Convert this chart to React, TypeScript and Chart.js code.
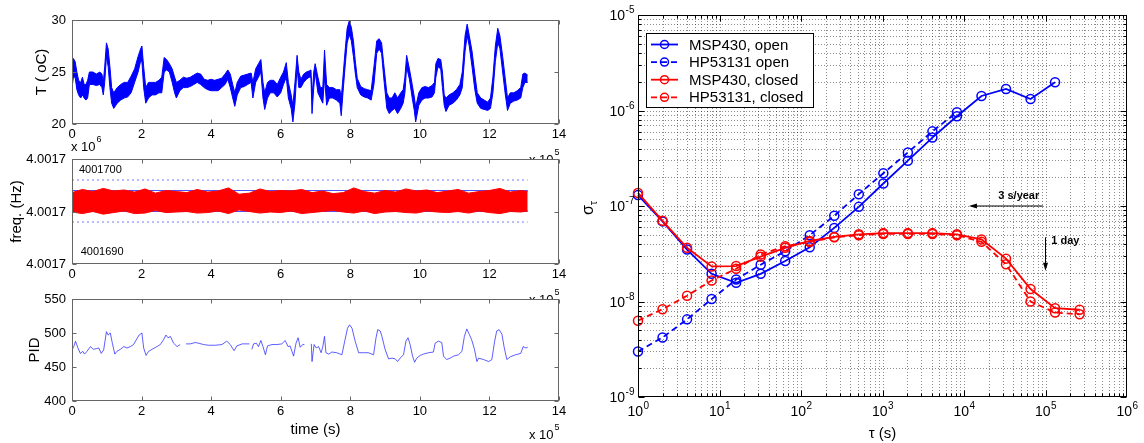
import React, { useEffect, useRef } from "react";
import { Chart, registerables } from "chart.js";
Chart.register(...registerables);

const W = 1144;
const H = 443;
const FONT = '"Liberation Sans", Arial, Helvetica, sans-serif';
const YW = 40;
const XH = 20;
const BLUE = "#0000ff";
const RED = "#ff0000";

// ---------------- data: time series (time in units of 1e5 s) ----------------
const timeTicks = [0, 2, 4, 6, 8, 10, 12, 14];

const tempTime = [0.0, 0.04, 0.09, 0.14, 0.19, 0.25, 0.3, 0.35, 0.4, 0.45, 0.5, 0.6, 0.7, 0.8, 0.86, 0.9, 0.94, 0.99, 1.04, 1.09, 1.14, 1.2, 1.3, 1.4, 1.5, 1.6, 1.7, 1.8, 1.9, 1.97, 2.01, 2.06, 2.12, 2.2, 2.3, 2.4, 2.5, 2.58, 2.65, 2.72, 2.8, 2.88, 2.95, 3.0, 3.1, 3.2, 3.3, 3.4, 3.5, 3.6, 3.7, 3.8, 3.9, 4.0, 4.1, 4.2, 4.3, 4.4, 4.48, 4.55, 4.62, 4.68, 4.75, 4.85, 4.95, 5.05, 5.15, 5.2, 5.28, 5.36, 5.43, 5.49, 5.54, 5.62, 5.7, 5.8, 5.9, 6.0, 6.08, 6.16, 6.22, 6.3, 6.35, 6.41, 6.47, 6.52, 6.58, 6.66, 6.74, 6.82, 6.87, 6.9, 6.95, 6.99, 7.07, 7.14, 7.21, 7.26, 7.32, 7.4, 7.5, 7.6, 7.7, 7.74, 7.79, 7.85, 7.91, 7.97, 8.03, 8.09, 8.14, 8.2, 8.3, 8.4, 8.5, 8.6, 8.68, 8.76, 8.83, 8.9, 8.96, 9.05, 9.12, 9.2, 9.28, 9.36, 9.45, 9.52, 9.57, 9.62, 9.7, 9.78, 9.84, 9.88, 9.97, 10.06, 10.15, 10.25, 10.35, 10.42, 10.46, 10.52, 10.6, 10.65, 10.7, 10.75, 10.84, 10.95, 11.05, 11.15, 11.22, 11.3, 11.36, 11.42, 11.5, 11.58, 11.65, 11.75, 11.85, 11.95, 12.03, 12.1, 12.17, 12.24, 12.3, 12.38, 12.45, 12.52, 12.6, 12.7, 12.8, 12.9, 12.96, 13.02, 13.1];
const tempLow = [23.5, 24.5, 24.5, 23.3, 22.8, 22.5, 22.8, 22.5, 22.3, 22.5, 23.8, 23.8, 23.7, 23.8, 23.5, 22.8, 24.0, 26.5, 25.5, 23.5, 22.0, 21.5, 22.0, 22.3, 22.5, 22.6, 23.0, 24.0, 25.0, 26.0, 26.0, 23.5, 22.0, 22.5, 22.8, 22.8, 23.0, 23.0, 25.0, 25.2, 25.0, 24.0, 23.0, 22.5, 23.2, 23.5, 23.5, 23.6, 23.8, 24.0, 23.8, 23.5, 23.3, 23.2, 23.2, 23.2, 23.5, 23.8, 24.3, 23.5, 22.5, 21.7, 22.8, 23.5, 23.6, 23.8, 24.0, 22.5, 24.0, 24.5, 25.0, 22.5, 21.4, 22.5, 23.0, 23.0, 22.6, 23.0, 23.8, 24.5, 22.5, 21.5, 20.2, 22.0, 25.5, 23.5, 23.5, 24.0, 24.3, 24.5, 24.5, 21.0, 23.5, 25.0, 23.0, 22.5, 22.0, 24.5, 21.8, 22.5, 22.5, 22.3, 22.0, 20.8, 23.0, 25.5, 27.8, 28.6, 28.0, 26.5, 25.0, 23.5, 22.8, 22.6, 22.5, 22.3, 23.8, 26.8, 27.2, 26.8, 24.5, 21.5, 21.0, 21.3, 21.5, 21.0, 21.5, 22.0, 23.0, 25.5, 24.3, 22.5, 21.3, 20.2, 21.8, 22.3, 22.5, 22.5, 22.6, 23.0, 24.5, 25.5, 25.3, 23.5, 21.8, 21.2, 21.8, 22.0, 22.3, 22.8, 23.5, 27.0, 28.5, 27.5, 25.5, 23.3, 22.0, 21.5, 21.4, 21.3, 21.5, 23.0, 26.0, 27.8, 27.3, 25.0, 23.0, 21.3, 22.0, 22.2, 22.3, 22.5, 23.5, 24.0, 24.0];
const tempHigh = [25.0, 26.3, 26.0, 25.0, 24.2, 24.0, 24.5, 23.8, 23.8, 24.2, 25.0, 25.0, 24.8, 25.0, 24.8, 24.0, 25.5, 27.8, 27.2, 25.5, 23.5, 23.0, 23.5, 23.8, 24.0, 24.0, 24.6, 25.3, 26.5, 27.2, 27.5, 25.5, 23.5, 24.0, 24.0, 24.0, 24.2, 24.5, 26.4, 26.2, 25.8, 25.3, 24.5, 24.0, 24.2, 24.5, 24.4, 24.5, 24.7, 24.9, 24.8, 24.3, 24.2, 24.3, 24.2, 24.3, 24.4, 24.8, 25.2, 24.8, 23.8, 23.0, 24.0, 24.6, 24.7, 24.8, 24.9, 24.0, 25.3, 25.8, 26.2, 24.0, 23.0, 24.0, 24.2, 24.2, 23.8, 24.5, 25.0, 25.9, 24.0, 22.8, 21.8, 24.0, 26.6, 25.0, 24.3, 24.8, 25.0, 25.1, 25.2, 22.5, 25.0, 25.8, 24.5, 23.5, 23.5, 27.1, 23.8, 23.5, 23.5, 23.3, 23.3, 22.5, 24.5, 27.0, 29.2, 29.9, 29.3, 28.0, 26.2, 24.4, 23.6, 23.4, 23.3, 23.2, 25.5, 28.0, 28.2, 27.8, 25.8, 23.0, 22.5, 22.5, 23.0, 22.5, 23.0, 23.3, 24.5, 26.6, 25.3, 23.8, 22.6, 21.6, 23.0, 23.5, 23.6, 23.5, 23.7, 24.0, 25.8, 26.3, 26.2, 25.0, 22.8, 22.5, 22.8, 23.0, 23.3, 23.8, 25.0, 28.5, 29.6, 28.5, 27.0, 24.8, 23.0, 22.5, 22.3, 22.1, 22.5, 24.5, 27.5, 29.2, 28.5, 26.5, 24.5, 22.5, 23.0, 23.0, 23.2, 23.5, 24.8, 24.9, 24.7];

const freqTime = [0.0, 0.3, 0.6, 0.9, 1.2, 1.5, 1.8, 2.1, 2.4, 2.7, 3.0, 3.3, 3.6, 3.9, 4.2, 4.5, 4.8, 5.1, 5.4, 5.7, 6.0, 6.3, 6.6, 6.9, 7.2, 7.5, 7.8, 8.1, 8.4, 8.7, 9.0, 9.3, 9.6, 9.9, 10.2, 10.5, 10.8, 11.1, 11.4, 11.7, 12.0, 12.3, 12.6, 12.9, 13.1];
const freqHigh = [4001703.6, 4001704.2, 4001703.8, 4001704.4, 4001703.9, 4001704.1, 4001703.7, 4001704.3, 4001703.5, 4001704.0, 4001703.8, 4001703.6, 4001704.2, 4001703.7, 4001703.9, 4001704.5, 4001703.3, 4001703.5, 4001704.3, 4001703.8, 4001704.0, 4001703.9, 4001704.2, 4001703.6, 4001703.9, 4001703.4, 4001703.6, 4001704.5, 4001703.8, 4001703.5, 4001704.0, 4001703.7, 4001704.3, 4001703.9, 4001704.1, 4001703.6, 4001703.9, 4001704.2, 4001703.5, 4001703.8, 4001704.0, 4001704.4, 4001703.7, 4001704.0, 4001703.8];
const freqLow = [4001699.9, 4001699.6, 4001700.0, 4001699.5, 4001699.8, 4001700.1, 4001699.6, 4001699.7, 4001700.2, 4001699.8, 4001699.9, 4001700.0, 4001699.7, 4001699.8, 4001700.1, 4001699.6, 4001700.3, 4001700.0, 4001699.7, 4001699.9, 4001699.8, 4001700.1, 4001699.6, 4001699.8, 4001700.0, 4001700.2, 4001699.9, 4001699.7, 4001700.1, 4001699.6, 4001699.9, 4001700.0, 4001699.8, 4001699.7, 4001700.1, 4001699.9, 4001699.8, 4001700.0, 4001699.7, 4001700.1, 4001699.8, 4001699.6, 4001700.0, 4001699.9, 4001700.1];
const freqSolidLevels = [4001700, 4001704];
const freqDotLevels = [4001698, 4001706];
const freqEnd = 13.1;
const freqNotes = [
  { text: "4001700", t: 0.2, v: 4001708.0 },
  { text: "4001690", t: 0.25, v: 4001692.2 },
];

const pidTime = [0.0, 0.05, 0.1, 0.17, 0.24, 0.31, 0.36, 0.43, 0.53, 0.62, 0.7, 0.77, 0.84, 0.91, 0.99, 1.04, 1.1, 1.16, 1.23, 1.29, 1.39, 1.49, 1.58, 1.68, 1.77, 1.87, 1.93, 2.01, 2.06, 2.13, 2.2, 2.3, 2.44, 2.54, 2.63, 2.7, 2.76, 2.83, 2.92, 3.02, 3.11, 3.18, 3.28, 3.4, 3.54, 3.64, 3.78, 3.93, 4.12, 4.31, 4.45, 4.55, 4.66, 4.74, 4.89, 5.03, 5.1, 5.14, 5.17, 5.22, 5.3, 5.36, 5.43, 5.49, 5.56, 5.62, 5.75, 5.89, 6.03, 6.13, 6.21, 6.27, 6.37, 6.44, 6.5, 6.56, 6.63, 6.68, 6.78, 6.88, 6.9, 6.96, 7.02, 7.09, 7.16, 7.21, 7.26, 7.3, 7.38, 7.47, 7.61, 7.76, 7.84, 7.92, 7.98, 8.05, 8.14, 8.24, 8.38, 8.52, 8.67, 8.74, 8.79, 8.86, 8.91, 9.0, 9.1, 9.2, 9.29, 9.36, 9.43, 9.53, 9.6, 9.66, 9.72, 9.79, 9.85, 9.91, 10.01, 10.1, 10.25, 10.39, 10.44, 10.53, 10.63, 10.68, 10.77, 10.87, 10.97, 11.11, 11.21, 11.28, 11.35, 11.42, 11.49, 11.57, 11.64, 11.69, 11.83, 11.98, 12.07, 12.15, 12.21, 12.28, 12.36, 12.42, 12.5, 12.6, 12.75, 12.9, 12.97, 13.05, 13.1];
const pidValue = [475, 480, 488, 478, 470, 473, 469, 473, 480, 476, 477, 478, 470, 475, 502, 497, 500, 485, 469, 473, 476, 480, 478, 480, 483, 492, 497, 500, 478, 467, 473, 476, 480, 483, 490, 497, 493, 495, 485, 480, 483, null, 484, 484, 486, 485, 483, 482, 482, 483, 488, 483, 474, 481, 484, 484, 484, null, 476, 484, 485, 480, 489, 480, 468, 481, 483, 483, 484, 489, 480, 481, 466, 485, 493, 479, 483, 483, null, 484, 458, 483, 478, 480, 471, 480, 495, 471, 469, 472, 471, 468, 488, 507, 512, 507, 488, 471, 471, 471, 468, 493, 505, 503, 495, 476, 462, 463, 462, 458, 463, 468, 488, 493, 483, 466, 457, 463, 467, 469, 471, 472, 485, 488, 486, 466, 461, 463, 466, 468, 473, 495, 506, 498, 490, 476, 458, 463, 461, 458, 461, 488, 503, 505, 498, 480, 461, 465, 468, 470, 480, 478, 479];

// ---------------- data: Allan deviation ----------------
const tau = [1, 2, 4, 8, 16, 32, 64, 128, 256, 512, 1024, 2048, 4096, 8192, 16384, 32768, 65536, 131072, 262144];
const mspOpen = [1.3e-7, 6.9e-8, 3.5e-8, 1.95e-8, 1.57e-8, 1.95e-8, 2.65e-8, 3.7e-8, 5.9e-8, 9.8e-8, 1.72e-7, 2.98e-7, 5.2e-7, 8.7e-7, 1.42e-6, 1.68e-6, 1.32e-6, 1.98e-6, null];
const hpOpen = [3.0e-9, 4.2e-9, 6.5e-9, 1.06e-8, 1.7e-8, 2.43e-8, 3.36e-8, 4.95e-8, 7.9e-8, 1.33e-7, 2.2e-7, 3.64e-7, 6.05e-7, 9.6e-7, null, null, null, null, null];
const mspClosed = [1.37e-7, 7.0e-8, 3.65e-8, 2.33e-8, 2.35e-8, 2.95e-8, 3.65e-8, 4.3e-8, 4.75e-8, 5.05e-8, 5.2e-8, 5.2e-8, 5.2e-8, 5.05e-8, 4.47e-8, 2.81e-8, 1.35e-8, 8.5e-9, 8.2e-9];
const hpClosed = [6.3e-9, 8.3e-9, 1.15e-8, 1.66e-8, 2.2e-8, 3.1e-8, 3.8e-8, 4.2e-8, 4.7e-8, 4.95e-8, 5.1e-8, 5.1e-8, 5.1e-8, 4.95e-8, 4.22e-8, 2.45e-8, 1.0e-8, 7.65e-9, 7.35e-9];
const seriesNames = ["MSP430, open", "HP53131 open", "MSP430, closed", "HP53131, closed"];
const yearArrow = { label: "3 s/year", labelTau: 47000, labelSigma: 1.27e-7, fromTau: 93000, toTau: 11500, sigma: 1.0e-7 };
const dayArrow = { label: "1 day", labelTau: 118000, labelSigma: 4.3e-8, tau: 100000, fromSigma: 4.7e-8, toSigma: 2.1e-8 };

// ---------------- helpers ----------------
type Area = { l: number; t: number; r: number; b: number };
const A1: Area = { l: 72, t: 20, r: 559, b: 124 };
const A2: Area = { l: 72, t: 159, r: 559, b: 264 };
const A3: Area = { l: 72, t: 299, r: 559, b: 401 };
const A4: Area = { l: 638, t: 15, r: 1127, b: 397 };

const pad = (a: Area) => ({ left: a.l - YW, top: a.t, right: W - a.r, bottom: H - a.b - XH });
const pts = (xs: number[], ys: (number | null)[]) => xs.map((x, i) => ({ x, y: ys[i] }));

function text(ctx: any, s: string, x: number, y: number, size: number, align = "left", weight = "normal", base = "alphabetic") {
  ctx.save();
  ctx.font = `${weight} ${size}px ${FONT}`;
  ctx.fillStyle = "#000";
  ctx.textAlign = align;
  ctx.textBaseline = base;
  ctx.fillText(s, x, y);
  ctx.restore();
}

function vtext(ctx: any, s: string, x: number, y: number, size: number) {
  ctx.save();
  ctx.translate(x, y);
  ctx.rotate(-Math.PI / 2);
  ctx.font = `${size}px ${FONT}`;
  ctx.fillStyle = "#000";
  ctx.textAlign = "center";
  ctx.textBaseline = "middle";
  ctx.fillText(s, 0, 0);
  ctx.restore();
}

// "x 10^e" multiplier label, left-aligned at x, baseline y
function multiplier(ctx: any, exp: string, x: number, y: number) {
  ctx.save();
  ctx.fillStyle = "#000";
  ctx.font = `13px ${FONT}`;
  ctx.textBaseline = "alphabetic";
  ctx.textAlign = "left";
  const s = "x 10";
  ctx.fillText(s, x, y);
  const w = ctx.measureText(s).width;
  ctx.font = `9px ${FONT}`;
  ctx.fillText(exp, x + w + 1, y - 9);
  ctx.restore();
}

function pow10(ctx: any, exp: string, x: number, y: number, align: "center" | "right") {
  ctx.save();
  ctx.fillStyle = "#000";
  ctx.textBaseline = "alphabetic";
  ctx.textAlign = "left";
  ctx.font = `14px ${FONT}`;
  const w1 = ctx.measureText("10").width;
  ctx.font = `10px ${FONT}`;
  const w2 = ctx.measureText(exp).width;
  const start = align === "center" ? x - (w1 + w2) / 2 : x - w1 - w2;
  ctx.font = `14px ${FONT}`;
  ctx.fillText("10", start, y);
  ctx.font = `10px ${FONT}`;
  ctx.fillText(exp, start + w1 + 0.5, y - 7);
  ctx.restore();
}

function drawBox(chart: any, xt: number[], yt: number[], color: string) {
  const { ctx, chartArea: a, scales } = chart;
  ctx.save();
  ctx.strokeStyle = color;
  ctx.lineWidth = 1;
  const L = Math.round(a.left) + 0.5, R = Math.round(a.right) - 0.5;
  const T = Math.round(a.top) + 0.5, B = Math.round(a.bottom) - 0.5;
  ctx.strokeRect(L, T, R - L, B - T);
  ctx.beginPath();
  xt.forEach((v) => {
    const px = Math.round(scales.x.getPixelForValue(v)) + 0.5;
    ctx.moveTo(px, B); ctx.lineTo(px, B - 4);
    ctx.moveTo(px, T); ctx.lineTo(px, T + 4);
  });
  yt.forEach((v) => {
    const py = Math.round(scales.y.getPixelForValue(v)) + 0.5;
    ctx.moveTo(L, py); ctx.lineTo(L + 4, py);
    ctx.moveTo(R, py); ctx.lineTo(R - 4, py);
  });
  ctx.stroke();
  ctx.restore();
}

function leftChart(canvas: HTMLCanvasElement, area: Area, y: any, datasets: any[], yTicks: number[], extra: (c: any) => void) {
  return new Chart(canvas, {
    type: "line",
    data: { datasets },
    options: {
      animation: false,
      responsive: false,
      devicePixelRatio: 1,
      events: [],
      layout: { padding: pad(area) },
      plugins: { legend: { display: false }, tooltip: { enabled: false } },
      elements: { point: { radius: 0 }, line: { tension: 0 } },
      scales: {
        x: {
          type: "linear", min: 0, max: 14,
          ticks: { stepSize: 2, font: { family: FONT, size: 13 }, color: "#000", padding: 3, maxRotation: 0 },
          grid: { display: false, drawTicks: false },
          border: { display: false },
          afterFit: (s: any) => { s.height = XH; },
        },
        y: {
          type: "linear", min: y.min, max: y.max,
          ticks: { display: false, stepSize: y.step },
          grid: { display: false, drawTicks: false },
          border: { display: false },
          afterFit: (s: any) => { s.width = YW; },
        },
      },
    } as any,
    plugins: [
      {
        id: "bgfill",
        beforeDraw(c: any) {
          const { ctx, chartArea: a } = c;
          ctx.save();
          ctx.fillStyle = "#fff";
          ctx.fillRect(a.left, a.top, a.width, a.height);
          ctx.restore();
        },
      },
      {
        id: "boxtext",
        afterDraw(c: any) {
          drawBox(c, timeTicks, yTicks, "#666");
          yTicks.forEach((v) => {
            const lbl = y.cb ? y.cb(v) : String(v);
            text(c.ctx, lbl, c.chartArea.left - 6, c.scales.y.getPixelForValue(v) + 0.5, 13, "right", "normal", "middle");
          });
          extra(c);
        },
      },
    ],
  });
}

function lineDs(data: any[], color: string, extra: any = {}) {
  return { data, borderColor: color, backgroundColor: color, borderWidth: 1, pointRadius: 0, fill: false, spanGaps: false, ...extra };
}

export default function App() {
  const r1 = useRef<HTMLCanvasElement>(null);
  const r2 = useRef<HTMLCanvasElement>(null);
  const r3 = useRef<HTMLCanvasElement>(null);
  const r4 = useRef<HTMLCanvasElement>(null);

  useEffect(() => {
    const charts: Chart[] = [];

    // ---- panel 1: temperature ----
    charts.push(
      leftChart(
        r1.current!, A1, { min: 20, max: 30, step: 5 },
        [
          lineDs(pts(tempTime, tempLow), BLUE),
          lineDs(pts(tempTime, tempHigh), BLUE, { fill: "-1", backgroundColor: BLUE }),
        ],
        [20, 25, 30],
        (c) => {
          const ctx = c.ctx;
          vtext(ctx, "T ( oC)", 42, (A1.t + A1.b) / 2, 15);
          multiplier(ctx, "5", A1.r - 30, A2.t + 5);
        }
      )
    );

    // ---- panel 2: frequency ----
    const flat = (v: number) => [{ x: 0, y: v }, { x: freqEnd, y: v }];
    const fds: any[] = [
      lineDs(pts(freqTime, freqLow), RED),
      lineDs(pts(freqTime, freqHigh), RED, { fill: "-1", backgroundColor: RED }),
    ];
    freqSolidLevels.forEach((v) => fds.push(lineDs(flat(v), "rgba(60,60,255,0.9)")));
    freqDotLevels.forEach((v) => fds.push(lineDs(flat(v), "rgba(60,60,255,0.7)", { borderDash: [2, 3] })));
    charts.push(
      leftChart(
        r2.current!, A2, { min: 4001690, max: 4001710, step: 10, cb: () => "4.0017" },
        fds,
        [4001690, 4001700, 4001710],
        (c) => {
          const ctx = c.ctx;
          vtext(ctx, "freq. (Hz)", 17, (A2.t + A2.b) / 2, 15);
          multiplier(ctx, "6", A2.l - 1, A2.t - 8);
          multiplier(ctx, "5", A2.r - 30, A3.t + 5);
          freqNotes.forEach((n) => {
            text(ctx, n.text, c.scales.x.getPixelForValue(n.t), c.scales.y.getPixelForValue(n.v), 11, "left", "normal", "middle");
          });
        }
      )
    );

    // ---- panel 3: PID ----
    charts.push(
      leftChart(
        r3.current!, A3, { min: 400, max: 550, step: 50 },
        [lineDs(pts(pidTime, pidValue), "rgba(40,40,255,0.75)")],
        [400, 450, 500, 550],
        (c) => {
          const ctx = c.ctx;
          vtext(ctx, "PID", 35, (A3.t + A3.b) / 2, 15);
          text(ctx, "time (s)", (A3.l + A3.r) / 2, 434, 15, "center");
          multiplier(ctx, "5", A3.r - 30, 439);
        }
      )
    );

    // ---- panel 4: Allan deviation ----
    const ad = (vals: (number | null)[], color: string, dashed: boolean) => ({
      data: pts(tau, vals),
      borderColor: color,
      backgroundColor: "rgba(0,0,0,0)",
      borderWidth: 1.8,
      borderDash: dashed ? [6, 4] : [],
      pointRadius: 4.5,
      pointBorderWidth: 1.5,
      pointBorderColor: color,
      pointBackgroundColor: "rgba(0,0,0,0)",
      fill: false,
      clip: false,
      spanGaps: false,
    });
    const legendSpec = [
      { color: BLUE, dashed: false },
      { color: BLUE, dashed: true },
      { color: RED, dashed: false },
      { color: RED, dashed: true },
    ];
    charts.push(
      new Chart(r4.current!, {
        type: "line",
        data: {
          datasets: [
            ad(hpClosed, RED, true),
            ad(mspClosed, RED, false),
            ad(hpOpen, BLUE, true),
            ad(mspOpen, BLUE, false),
          ],
        },
        options: {
          animation: false,
          responsive: false,
          devicePixelRatio: 1,
          events: [],
          layout: { padding: pad(A4) },
          plugins: { legend: { display: false }, tooltip: { enabled: false } },
          elements: { line: { tension: 0 } },
          scales: {
            x: {
              type: "logarithmic", min: 1, max: 1e6,
              ticks: { display: false },
              grid: { display: false, drawTicks: false },
              border: { display: false },
              afterFit: (s: any) => { s.height = XH; },
            },
            y: {
              type: "logarithmic", min: 1e-9, max: 1e-5,
              ticks: { display: false },
              grid: { display: false, drawTicks: false },
              border: { display: false },
              afterFit: (s: any) => { s.width = YW; },
            },
          },
        } as any,
        plugins: [
          {
            id: "loggrid",
            beforeDatasetsDraw(c: any) {
              const { ctx, chartArea: a, scales } = c;
              ctx.save();
              ctx.strokeStyle = "rgba(0,0,0,0.45)";
              ctx.lineWidth = 1;
              ctx.setLineDash([1, 2]);
              ctx.beginPath();
              for (let k = 0; k < 6; k++)
                for (let m = 1; m <= 9; m++) {
                  const v = m * Math.pow(10, k);
                  if (v <= 1) continue;
                  const px = Math.round(scales.x.getPixelForValue(v)) + 0.5;
                  ctx.moveTo(px, a.top); ctx.lineTo(px, a.bottom);
                }
              for (let k = -9; k < -5; k++)
                for (let m = 1; m <= 9; m++) {
                  const v = m * Math.pow(10, k);
                  if (v <= 1e-9 * 1.0001) continue;
                  const py = Math.round(scales.y.getPixelForValue(v)) + 0.5;
                  ctx.moveTo(a.left, py); ctx.lineTo(a.right, py);
                }
              ctx.stroke();
              ctx.restore();
            },
            afterDatasetsDraw(c: any) {
              const { ctx, chartArea: a, scales } = c;
              ctx.save();
              ctx.strokeStyle = "#000";
              ctx.lineWidth = 1;
              const L = Math.round(a.left) + 0.5, R = Math.round(a.right) - 0.5;
              const T = Math.round(a.top) + 0.5, B = Math.round(a.bottom) - 0.5;
              ctx.strokeRect(L, T, R - L, B - T);
              ctx.beginPath();
              for (let k = 0; k < 6; k++)
                for (let m = 1; m <= 9; m++) {
                  const px = Math.round(scales.x.getPixelForValue(m * Math.pow(10, k))) + 0.5;
                  const len = m === 1 ? 6 : 3;
                  ctx.moveTo(px, B); ctx.lineTo(px, B - len);
                  ctx.moveTo(px, T); ctx.lineTo(px, T + len);
                }
              for (let k = -9; k < -5; k++)
                for (let m = 1; m <= 9; m++) {
                  const py = Math.round(scales.y.getPixelForValue(m * Math.pow(10, k))) + 0.5;
                  const len = m === 1 ? 6 : 3;
                  ctx.moveTo(L, py); ctx.lineTo(L + len, py);
                  ctx.moveTo(R, py); ctx.lineTo(R - len, py);
                }
              ctx.stroke();
              ctx.restore();
            },
            afterDraw(c: any) {
              const { ctx, chartArea: a, scales } = c;
              const xs = scales.x, ys = scales.y;
              // tick labels
              for (let k = 0; k <= 6; k++) pow10(ctx, String(k), xs.getPixelForValue(Math.pow(10, k)), a.bottom + 19, "center");
              for (let k = -9; k <= -5; k++) pow10(ctx, String(k), a.left - 4, ys.getPixelForValue(Math.pow(10, k)) + 5, "right");
              // axis titles
              text(ctx, "\u03c4 (s)", (a.left + a.right) / 2, 438, 15, "center");
              ctx.save();
              ctx.translate(a.left - 45, ys.getPixelForValue(1e-7) + 4);
              ctx.rotate(-Math.PI / 2);
              ctx.fillStyle = "#000";
              ctx.font = `16px ${FONT}`;
              ctx.textBaseline = "alphabetic";
              ctx.fillText("\u03c3", -5, 0);
              const ws = ctx.measureText("\u03c3").width;
              ctx.font = `11px ${FONT}`;
              ctx.fillText("\u03c4", -5 + ws, 4);
              ctx.restore();

              // legend
              const lx = a.left + 8, ly = a.top + 18, lw = 167, lh = 74;
              ctx.save();
              ctx.fillStyle = "#fff";
              ctx.fillRect(lx, ly, lw, lh);
              ctx.strokeStyle = "#000";
              ctx.lineWidth = 1;
              ctx.strokeRect(lx + 0.5, ly + 0.5, lw, lh);
              legendSpec.forEach((s, i) => {
                const yy = ly + 11.5 + i * 17.6;
                ctx.strokeStyle = s.color;
                ctx.lineWidth = 1.8;
                ctx.setLineDash(s.dashed ? [6, 4] : []);
                ctx.beginPath();
                ctx.moveTo(lx + 5, yy); ctx.lineTo(lx + 32, yy);
                ctx.stroke();
                ctx.setLineDash([]);
                ctx.lineWidth = 1.5;
                ctx.beginPath();
                ctx.arc(lx + 18.5, yy, 4, 0, Math.PI * 2);
                ctx.stroke();
                ctx.fillStyle = "#000";
                ctx.font = `15px ${FONT}`;
                ctx.textBaseline = "middle";
                ctx.fillText(seriesNames[i], lx + 43, yy + 1);
              });
              ctx.restore();

              // annotations
              ctx.save();
              ctx.strokeStyle = "#000";
              ctx.fillStyle = "#000";
              ctx.lineWidth = 1;
              const ay = ys.getPixelForValue(yearArrow.sigma);
              const ax1 = xs.getPixelForValue(yearArrow.fromTau), ax2 = xs.getPixelForValue(yearArrow.toTau);
              ctx.beginPath(); ctx.moveTo(ax1, ay); ctx.lineTo(ax2 + 6, ay); ctx.stroke();
              ctx.beginPath(); ctx.moveTo(ax2, ay); ctx.lineTo(ax2 + 8, ay - 2.5); ctx.lineTo(ax2 + 8, ay + 2.5); ctx.closePath(); ctx.fill();
              const dx = xs.getPixelForValue(dayArrow.tau);
              const dy1 = ys.getPixelForValue(dayArrow.fromSigma), dy2 = ys.getPixelForValue(dayArrow.toSigma);
              ctx.beginPath(); ctx.moveTo(dx, dy1); ctx.lineTo(dx, dy2 - 6); ctx.stroke();
              ctx.beginPath(); ctx.moveTo(dx, dy2); ctx.lineTo(dx - 2.5, dy2 - 8); ctx.lineTo(dx + 2.5, dy2 - 8); ctx.closePath(); ctx.fill();
              ctx.restore();
              text(ctx, yearArrow.label, xs.getPixelForValue(yearArrow.labelTau), ys.getPixelForValue(yearArrow.labelSigma), 11, "center", "bold", "middle");
              text(ctx, dayArrow.label, xs.getPixelForValue(dayArrow.labelTau), ys.getPixelForValue(dayArrow.labelSigma), 11, "left", "bold", "middle");
            },
          },
        ],
      })
    );

    return () => charts.forEach((c) => c.destroy());
  }, []);

  const cs: React.CSSProperties = { position: "absolute", left: 0, top: 0, width: W, height: H };
  return (
    <div style={{ position: "absolute", left: 0, top: 0, width: W, height: H, background: "#fff" }}>
      <canvas ref={r1} width={W} height={H} style={cs} />
      <canvas ref={r2} width={W} height={H} style={cs} />
      <canvas ref={r3} width={W} height={H} style={cs} />
      <canvas ref={r4} width={W} height={H} style={cs} />
    </div>
  );
}
